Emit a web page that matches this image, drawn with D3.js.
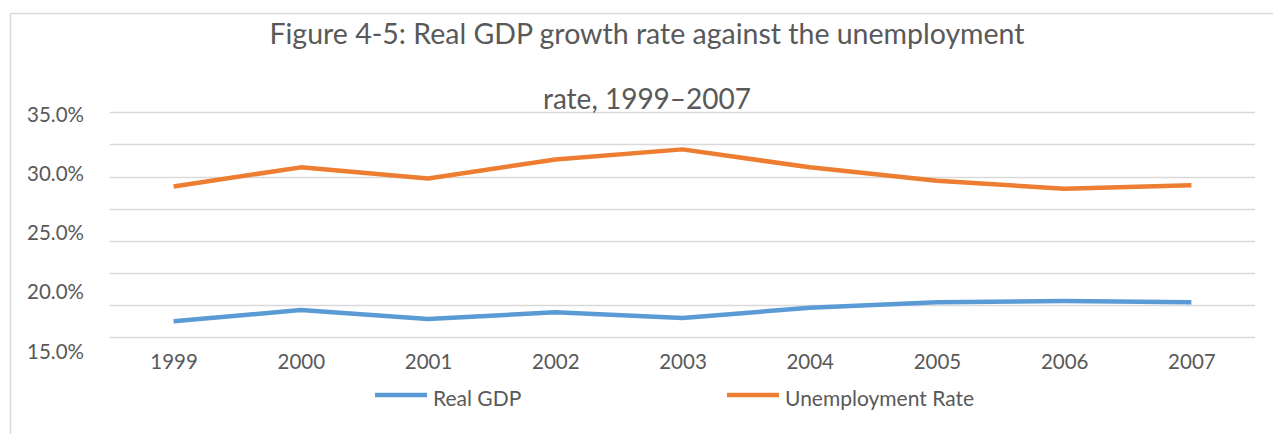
<!DOCTYPE html>
<html>
<head>
<meta charset="utf-8">
<script src="https://cdn.jsdelivr.net/npm/d3@7"></script>
<style>
    body { margin: 0; background: #fff; }
    text { font-family: Lato, "Open Sans", sans-serif; fill: #595959; }
</style>
</head>
<body>
<script>
'use strict';

// categories and series (percent)
const years = ['1999', '2000', '2001', '2002', '2003', '2004', '2005', '2006', '2007'];
const realGdp = [16.4, 17.4, 16.6, 17.2, 16.7, 17.6, 18.1, 18.2, 18.1];
const unemploymentRate = [28.4, 30.1, 29.1, 30.8, 31.7, 30.1, 28.9, 28.2, 28.5];
const yTickLabels = [15, 20, 25, 30, 35];
const seriesNames = ['Real GDP', 'Unemployment Rate'];
const seriesColors = ['#5b9bd5', '#ed7d31'];

const width = 1273, height = 434;

const svg = d3.select('body').append('svg')
    .attr('width', width)
    .attr('height', height);

// outer frame (left and top edges only are visible)
svg.append('path')
    .attr('d', 'M10.5,434 V13.5 H1273')
    .attr('fill', 'none')
    .attr('stroke', '#d9d9d9')
    .attr('stroke-width', 1.5);

// x scale: category points
const x = d3.scalePoint()
    .domain(years)
    .range([110, 1255])
    .padding(0.5);

// y scale for data and gridlines
const y = d3.scaleLinear()
    .domain([15, 35])
    .range([337, 112.3]);

// the tick labels sit on their own spacing in the picture
const yLab = d3.scaleLinear()
    .domain([15, 35])
    .range([351.5, 115]);

// gridlines: eight evenly spaced lines
const gridValues = d3.range(8).map(i => 15 + i * 20 / 7);
svg.append('g')
    .selectAll('line')
    .data(gridValues)
    .enter()
    .append('line')
    .attr('x1', 110)
    .attr('x2', 1255)
    .attr('y1', d => Math.round(y(d)) + 0.5)
    .attr('y2', d => Math.round(y(d)) + 0.5)
    .attr('stroke', '#d9d9d9')
    .attr('stroke-width', 1.5);

// y labels
const yAxis = d3.axisLeft(yLab)
    .tickValues(yTickLabels)
    .tickSize(0)
    .tickPadding(0)
    .tickFormat(d => d3.format('.1f')(d) + '%');
svg.append('g')
    .attr('transform', 'translate(84,0)')
    .call(yAxis)
    .call(g => g.select('.domain').remove())
    .selectAll('text')
    .attr('font-size', '20.5px')
    .attr('fill', null);

// x labels
const xAxis = d3.axisBottom(x).tickSize(0).tickPadding(0);
svg.append('g')
    .attr('transform', 'translate(0,354)')
    .call(xAxis)
    .call(g => g.select('.domain').remove())
    .selectAll('text')
    .attr('font-size', '20.5px')
    .attr('fill', null);
svg.selectAll('.tick text').attr('font-family', null);

// lines
const line = d3.line()
    .x((d, i) => x(years[i]))
    .y(d => y(d));

[realGdp, unemploymentRate].forEach((values, k) => {
    svg.append('path')
        .datum(values)
        .attr('fill', 'none')
        .attr('stroke', seriesColors[k])
        .attr('stroke-width', 4.5)
        .attr('stroke-linejoin', 'round')
        .attr('d', line);
});

// title
svg.append('text')
    .attr('x', 647)
    .attr('y', 44)
    .attr('text-anchor', 'middle')
    .style('font-size', '28.5px')
    .text('Figure 4-5: Real GDP growth rate against the unemployment');

svg.append('text')
    .attr('x', 647)
    .attr('y', 109)
    .attr('text-anchor', 'middle')
    .style('font-size', '28px')
    .text('rate, 1999\u20132007');

// legend
const legendX = [375, 727];
seriesNames.forEach((name, k) => {
    svg.append('line')
        .attr('x1', legendX[k])
        .attr('x2', legendX[k] + 52)
        .attr('y1', 395)
        .attr('y2', 395)
        .attr('stroke', seriesColors[k])
        .attr('stroke-width', 4.5);
    svg.append('text')
        .attr('x', legendX[k] + 58)
        .attr('y', 406)
        .style('font-size', '21px')
        .text(name);
});
</script>
</body>
</html>
